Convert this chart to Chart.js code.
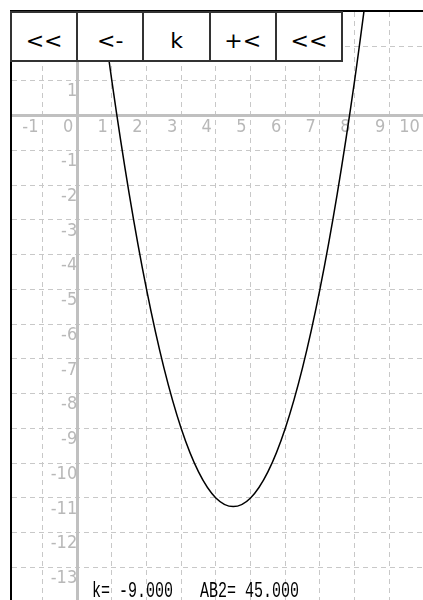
<!DOCTYPE html>
<html>
<head>
<meta charset="utf-8">
<title>k parabola</title>
<script src="https://cdn.jsdelivr.net/npm/chart.js@4.4.1/dist/chart.umd.min.js"></script>
<style>
  html, body { margin: 0; padding: 0; width: 423px; height: 600px; overflow: hidden; background: #fff; }
  #frame {
    position: absolute; left: 10px; top: 10px;
    width: 440px; height: 610px;
    border-left: 2px solid #000; border-top: 2px solid #000;
  }
  .buttons {
    position: absolute; left: 10px; top: 11px;
    width: 333px; height: 51px; display: flex;
  }
  .buttons button {
    flex: 1 1 0; margin: 0 0 0 -2px; height: 51px;
    background: #fff; color: #000;
    border: 2px solid #333; border-radius: 0;
    font: 22px "DejaVu Sans", sans-serif;
    padding: 8px 0 0 0;
  }
  .buttons button:first-child { margin-left: 0; }
  #readout {
    position: absolute; left: 92px; top: 581px;
    font: 22px/22px "Liberation Mono", monospace; color: #000;
    white-space: pre; transform: scaleX(0.682); transform-origin: left top;
  }
</style>
</head>
<body>
<div id="frame"><canvas id="graph"></canvas></div>
<div class="buttons">
  <button>&lt;&lt;</button>
  <button>&lt;-</button>
  <button>k</button>
  <button>+&lt;</button>
  <button>&lt;&lt;</button>
</div>
<div id="readout"></div>

<script>
// curve y = x^2 + kx + 9
const curveX = [0.5, 1, 1.5, 2, 2.5, 3, 3.5, 4, 4.5, 5, 5.5, 6, 6.5, 7, 7.5, 8, 8.5];
const curveY = [4.75, 1, -2.25, -5, -7.25, -9, -10.25, -11, -11.25, -11, -10.25, -9, -7.25, -5, -2.25, 1, 4.75];

const xTickValues = [-1, 0, 1, 2, 3, 4, 5, 6, 7, 8, 9, 10];
const yTickValues = [-14, -13, -12, -11, -10, -9, -8, -7, -6, -5, -4, -3, -2, -1, 0, 1, 2];

const kValue = -9;
const ab2Value = 45;

document.getElementById('readout').textContent =
  `k= ${kValue.toFixed(3)}   AB2= ${ab2Value.toFixed(3)}`;

const points = curveX.map((x, i) => ({ x: x, y: curveY[i] }));

const tickFont = { family: '"Liberation Sans Narrow", "DejaVu Sans Condensed", sans-serif', size: 18 };
const gridColor = '#c8c8c8';
const axisColor = '#c0c0c0';
const labelColor = '#b8b8b8';

// axes sit inside the plot, so they should not push the plot area in
function noPadding(scale) {
  scale.paddingTop = 0;
  scale.paddingBottom = 0;
  scale.paddingLeft = 0;
  scale.paddingRight = 0;
}

const ctx = document.getElementById('graph').getContext('2d');
new Chart(ctx, {
  type: 'scatter',
  data: {
    datasets: [{
      data: points,
      showLine: true,
      borderColor: '#000',
      borderWidth: 1.5,
      pointRadius: 0,
      tension: 0.35,
      fill: false
    }]
  },
  options: {
    responsive: true,
    maintainAspectRatio: false,
    animation: false,
    layout: { padding: 0, autoPadding: false },
    plugins: {
      legend: { display: false },
      tooltip: { enabled: false }
    },
    scales: {
      x: {
        type: 'linear',
        position: { y: 0 },
        min: -1.88,
        max: 10.81,
        afterBuildTicks: scale => { scale.ticks = xTickValues.map(v => ({ value: v })); },
        afterFit: noPadding,
        grid: { color: gridColor, lineWidth: 1, drawTicks: false },
        border: { display: true, color: axisColor, width: 3, dash: [5, 4] },
        ticks: {
          color: labelColor, font: tickFont, padding: 1,
          align: 'end', labelOffset: -4,
          autoSkip: false, maxRotation: 0,
          callback: v => v
        }
      },
      y: {
        type: 'linear',
        position: { x: 0 },
        min: -14.57,
        max: 2.98,
        afterBuildTicks: scale => { scale.ticks = yTickValues.map(v => ({ value: v })); },
        afterFit: noPadding,
        grid: { color: gridColor, lineWidth: 1, drawTicks: false },
        border: { display: true, color: axisColor, width: 3, dash: [5, 4] },
        ticks: {
          color: labelColor, font: tickFont, padding: 3,
          labelOffset: 11,
          autoSkip: false,
          callback: v => (v === 0 ? '' : v)
        }
      }
    }
  }
});
</script>
</body>
</html>
